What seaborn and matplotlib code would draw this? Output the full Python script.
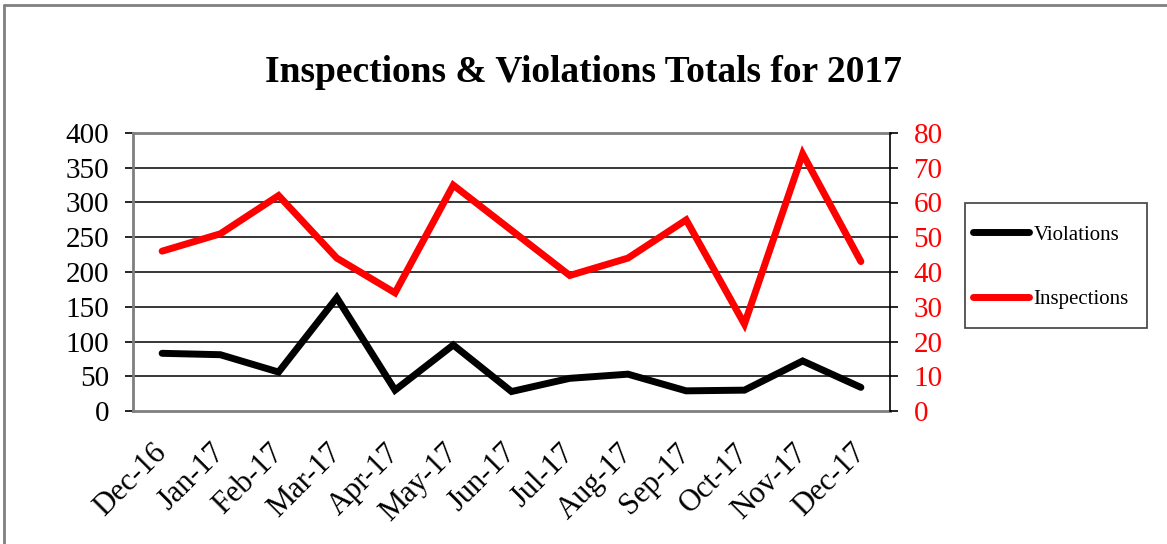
import matplotlib
matplotlib.use("Agg")
import matplotlib.pyplot as plt
import seaborn as sns
import pandas as pd
from matplotlib.lines import Line2D
from matplotlib.patches import Rectangle

# data
months = ["Dec-16", "Jan-17", "Feb-17", "Mar-17", "Apr-17", "May-17", "Jun-17",
          "Jul-17", "Aug-17", "Sep-17", "Oct-17", "Nov-17", "Dec-17"]
violations = [83, 81, 56, 163, 30, 95, 28, 47, 53, 29, 30, 72, 34]
inspections = [46, 51, 62, 44, 34, 65, 52, 39, 44, 55, 25, 74, 43]

df = pd.DataFrame({"month": months, "Violations": violations, "Inspections": inspections})

sns.set_style("white")
plt.rcParams["font.family"] = ["Liberation Serif", "DejaVu Serif"]
plt.rcParams["text.color"] = "black"
plt.rcParams["xtick.color"] = "black"
plt.rcParams["ytick.color"] = "black"

W, H = 1167, 544
fig = plt.figure(figsize=(W / 100, H / 100), dpi=100)
ax = fig.add_axes([133 / W, 1 - 411 / H, (890 - 133) / W, (411 - 133) / H])
ax2 = ax.twinx()

sns.lineplot(data=df, x="month", y="Violations", ax=ax, color="black", lw=5,
             solid_capstyle="round", solid_joinstyle="miter", sort=False, legend=False)
sns.lineplot(data=df, x="month", y="Inspections", ax=ax2, color="red", lw=5,
             solid_capstyle="round", solid_joinstyle="miter", sort=False, legend=False)

n = len(months)
ax.set_xlim(-0.5, n - 0.5)
ax.set_ylim(0, 400)
ax2.set_ylim(0, 80)
ax.set_yticks(range(0, 401, 50))
ax2.set_yticks(range(0, 81, 10))

# boundary ticks (major) and centered labels (minor)
ax.set_xticks([i - 0.5 for i in range(n + 1)])
ax.set_xticklabels([])
ax.set_xticks(range(n), minor=True)
ax.set_xticklabels(months, minor=True, rotation=45, ha="right", va="center",
                   rotation_mode="anchor", fontsize=22)
ax.tick_params(axis="x", which="major", direction="out", length=6, width=1.2, color="black")
ax.tick_params(axis="x", which="minor", length=0, pad=27)
ax.tick_params(axis="y", direction="out", length=6, width=1.2, labelsize=21, pad=11)
ax2.tick_params(axis="y", direction="out", length=6, width=1.2, labelsize=21,
                labelcolor="red", pad=11)

ax.set_xlabel("")
ax.set_ylabel("")
ax2.set_ylabel("")

for y in range(50, 400, 50):
    ax.axhline(y, color="black", lw=1.1, zorder=0)

for s in ["left", "bottom", "top"]:
    ax.spines[s].set_color("#7f7f7f")
    ax.spines[s].set_linewidth(2)
for s in ["left", "bottom", "top"]:
    ax2.spines[s].set_visible(False)
ax2.spines["right"].set_color("black")
ax2.spines["right"].set_linewidth(1.2)
ax.spines["right"].set_visible(False)

fig.text(583 / W, 1 - 73 / H, "Inspections & Violations Totals for 2017",
         ha="center", va="center", fontsize=27, fontweight="bold")

# legend box drawn by hand, entries placed inside it
fig.add_artist(Rectangle((965 / W, 1 - 328 / H), (1147 - 965) / W, (328 - 203) / H,
                         transform=fig.transFigure, fill=False, edgecolor="#404040", lw=1.2))
handles = [Line2D([], [], color="black", lw=5, solid_capstyle="round"),
           Line2D([], [], color="red", lw=5, solid_capstyle="round")]
fig.legend(handles, ["Violations", "Inspections"], loc="upper left",
           bbox_to_anchor=(973 / W, 1 - 225 / H), fontsize=15, frameon=False,
           labelspacing=2.15, handlelength=2.7, handletextpad=0.2,
           borderpad=0, borderaxespad=0)

# outer chart border
fig.add_artist(Line2D([4 / W, 1], [1 - 4.5 / H, 1 - 4.5 / H],
                      transform=fig.transFigure, color="#808080", lw=2))
fig.add_artist(Line2D([4 / W, 4 / W], [0, 1 - 4.5 / H],
                      transform=fig.transFigure, color="#808080", lw=2))

fig.savefig("out.png", dpi=100)
